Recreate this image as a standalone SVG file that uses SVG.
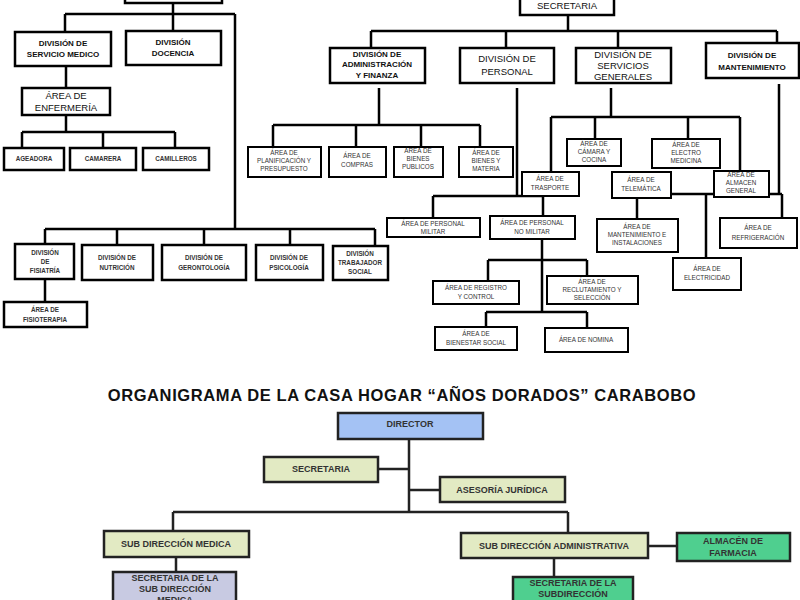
<svg xmlns="http://www.w3.org/2000/svg" width="800" height="600" viewBox="0 0 800 600">
<style>
.b{fill:#fff;stroke:#000;stroke-width:2.5}
.bt{fill:#fff;stroke:#000;stroke-width:2}
.c{stroke:#000;stroke-width:2.5;fill:none}
.c2{stroke:#222;stroke-width:2.5;fill:none}
text{font-family:"Liberation Sans",Arial,sans-serif;text-anchor:middle;fill:#111}
.d{font-size:8px;font-weight:bold}
.d2{font-size:9.5px}
.a{font-size:6.3px;fill:#333}
.s{font-size:9px;fill:#333}
.t{font-size:16.5px;font-weight:bold;letter-spacing:0.6px}
.bb{stroke:#222;stroke-width:2.5}
</style>
<rect width="800" height="600" fill="#fff"/>
<g id="connectors">
<path class="c" d="M173 0V14M65 14H235M65 14V32M173 14V31M235 14V229M66 66V88M66 115V132M22 132H175M22 132V148M103 132V148M175 132V148M45 229H375M45 229V244M117 229V245M204 229V245M290 229V246M375 229V246M45 279V302"/>
<path class="c" d="M568 14V31M371 31H777M371 31V51M506 31V51M618 31V52M777 31V46M379 88V125M273 125H480M273 125V147M356 125V147M421 125V147M480 125V147M611 88V117M551 117H740M551 117V172M595 117V139M688 117V139M740 117V171M517 88V196M433 196H543M433 196V218M543 196V216M542 239V313M488 260H587M488 260V281M587 260V276M486 312H587M486 312V327M587 312V328M779 84V194M637 194H782M637 194V219M706 194V258M782 194V218"/>
<path class="c2" d="M409 439V512M378 469H409M409 490H440M173 512H568M173 512V531M568 512V533M176 557V572M554 558V577M648 546H677"/>
</g>
<g id="n_top"><rect class="b" x="125" y="-6" width="97" height="9"/></g>
<g id="n_sec"><rect class="b" x="520" y="-4" width="94" height="19"/><text class="d2" x="567" y="9">SECRETARIA</text></g>
<g id="n_sm"><rect class="b" x="15" y="32" width="96" height="34"/><text class="d" x="63" y="46">DIVISIÓN DE</text><text class="d" x="63" y="57">SERVICIO MEDICO</text></g>
<g id="n_doc"><rect class="b" x="126" y="31" width="95" height="34"/><text class="d" x="173" y="45">DIVISIÓN</text><text class="d" x="173" y="56">DOCENCIA</text></g>
<g id="n_enf"><rect class="b" x="22" y="88" width="88" height="27"/><text class="d2" x="66" y="99">ÁREA DE</text><text class="d2" x="66" y="111">ENFERMERÍA</text></g>
<g id="n_age"><rect class="b" x="4" y="148" width="60" height="22"/><text class="a" x="34" y="161" font-weight="bold">AGEADORA</text></g>
<g id="n_cam"><rect class="b" x="70" y="148" width="66" height="22"/><text class="a" x="103" y="161" font-weight="bold">CAMARERA</text></g>
<g id="n_cml"><rect class="b" x="143" y="148" width="66" height="22"/><text class="a" x="176" y="161" font-weight="bold">CAMILLEROS</text></g>
<g id="n_fis"><rect class="b" x="15" y="244" width="59" height="35"/><text class="a" x="45" y="255" font-weight="bold">DIVISIÓN</text><text class="a" x="45" y="264" font-weight="bold">DE</text><text class="a" x="45" y="273" font-weight="bold">FISIATRÍA</text></g>
<g id="n_nut"><rect class="b" x="82" y="245" width="71" height="35"/><text class="a" x="117" y="260" font-weight="bold">DIVISIÓN DE</text><text class="a" x="117" y="270" font-weight="bold">NUTRICIÓN</text></g>
<g id="n_ger"><rect class="b" x="162" y="245" width="84" height="35"/><text class="a" x="204" y="260" font-weight="bold">DIVISIÓN DE</text><text class="a" x="204" y="270" font-weight="bold">GERONTOLOGÍA</text></g>
<g id="n_psi"><rect class="b" x="256" y="245" width="67" height="35"/><text class="a" x="289" y="260" font-weight="bold">DIVISIÓN DE</text><text class="a" x="289" y="270" font-weight="bold">PSICOLOGÍA</text></g>
<g id="n_tra"><rect class="b" x="333" y="246" width="55" height="34"/><text class="a" x="360" y="256" font-weight="bold">DIVISIÓN</text><text class="a" x="360" y="265" font-weight="bold">TRABAJADOR</text><text class="a" x="360" y="274" font-weight="bold">SOCIAL</text></g>
<g id="n_fit"><rect class="b" x="4" y="302" width="83" height="25"/><text class="a" x="45" y="312" font-weight="bold">ÁREA DE</text><text class="a" x="45" y="322" font-weight="bold">FISIOTERAPIA</text></g>
<g id="n_adm"><rect class="b" x="330" y="48" width="95" height="35"/><text class="d" x="377" y="57">DIVISIÓN DE</text><text class="d" x="377" y="67">ADMINISTRACIÓN</text><text class="d" x="377" y="78">Y FINANZA</text></g>
<g id="n_per"><rect class="b" x="460" y="48" width="94" height="35"/><text class="d2" x="507" y="62">DIVISIÓN DE</text><text class="d2" x="507" y="75">PERSONAL</text></g>
<g id="n_srv"><rect class="b" x="576" y="48" width="95" height="35"/><text class="d2" x="623" y="58" font-size="8.5">DIVISIÓN DE</text><text class="d2" x="623" y="69" font-size="8.5">SERVICIOS</text><text class="d2" x="623" y="80" font-size="8.5">GENERALES</text></g>
<g id="n_man"><rect class="b" x="706" y="43" width="93" height="35"/><text class="d" x="752" y="58">DIVISIÓN DE</text><text class="d" x="752" y="70">MANTENIMIENTO</text></g>
<g id="n_pla"><rect class="bt" x="248" y="147" width="73" height="30"/><text class="a" x="284" y="155">ÁREA DE</text><text class="a" x="284" y="163">PLANIFICACIÓN Y</text><text class="a" x="284" y="171">PRESUPUESTO</text></g>
<g id="n_com"><rect class="bt" x="329" y="147" width="57" height="30"/><text class="a" x="357" y="158">ÁREA DE</text><text class="a" x="357" y="167">COMPRAS</text></g>
<g id="n_bpu"><rect class="bt" x="394" y="147" width="49" height="30"/><text class="a" x="418" y="153">ÁREA DE</text><text class="a" x="418" y="161">BIENES</text><text class="a" x="418" y="169">PUBLICOS</text></g>
<g id="n_bma"><rect class="bt" x="459" y="147" width="54" height="30"/><text class="a" x="486" y="155">ÁREA DE</text><text class="a" x="486" y="163">BIENES Y</text><text class="a" x="486" y="171">MATERIA</text></g>
<g id="n_cc"><rect class="bt" x="567" y="139" width="54" height="27"/><text class="a" x="594" y="146">ÁREA DE</text><text class="a" x="594" y="154">CÁMARA Y</text><text class="a" x="594" y="162">COCINA</text></g>
<g id="n_em"><rect class="bt" x="652" y="139" width="68" height="29"/><text class="a" x="686" y="147">ÁREA DE</text><text class="a" x="686" y="155">ELECTRO</text><text class="a" x="686" y="163">MEDICINA</text></g>
<g id="n_trs"><rect class="bt" x="522" y="172" width="57" height="24"/><text class="a" x="550" y="181">ÁREA DE</text><text class="a" x="550" y="190">TRASPORTE</text></g>
<g id="n_tel"><rect class="bt" x="612" y="172" width="59" height="26"/><text class="a" x="641" y="182">ÁREA DE</text><text class="a" x="641" y="191">TELEMÁTICA</text></g>
<g id="n_alm"><rect class="bt" x="714" y="171" width="55" height="26"/><text class="a" x="741" y="177">ÁREA DE</text><text class="a" x="741" y="185">ALMACEN</text><text class="a" x="741" y="193">GENERAL</text></g>
<g id="n_pm"><rect class="bt" x="387" y="218" width="93" height="19"/><text class="a" x="433" y="226">ÁREA DE PERSONAL</text><text class="a" x="433" y="234">MILITAR</text></g>
<g id="n_pnm"><rect class="bt" x="490" y="216" width="85" height="23"/><text class="a" x="532" y="225">ÁREA DE PERSONAL</text><text class="a" x="532" y="234">NO MILITAR</text></g>
<g id="n_reg"><rect class="bt" x="433" y="281" width="86" height="23"/><text class="a" x="476" y="290">ÁREA  DE REGISTRO</text><text class="a" x="476" y="299">Y CONTROL</text></g>
<g id="n_rec"><rect class="bt" x="547" y="276" width="91" height="28"/><text class="a" x="592" y="284">ÁREA DE</text><text class="a" x="592" y="292">RECLUTAMIENTO Y</text><text class="a" x="592" y="300">SELECCIÓN</text></g>
<g id="n_bie"><rect class="bt" x="435" y="327" width="82" height="23"/><text class="a" x="476" y="336">ÁREA DE</text><text class="a" x="476" y="345">BIENESTAR SOCIAL</text></g>
<g id="n_nom"><rect class="bt" x="545" y="328" width="83" height="24"/><text class="a" x="586" y="342">ÁREA DE NOMINA</text></g>
<g id="n_mi"><rect class="bt" x="597" y="219" width="81" height="33"/><text class="a" x="637" y="229">ÁREA DE</text><text class="a" x="637" y="237">MANTENIMIENTO E</text><text class="a" x="637" y="245">INSTALACIONES</text></g>
<g id="n_ref"><rect class="bt" x="720" y="218" width="77" height="30"/><text class="a" x="758" y="230">ÁREA DE</text><text class="a" x="758" y="240">REFRIGERACIÓN</text></g>
<g id="n_ele"><rect class="bt" x="673" y="258" width="68" height="32"/><text class="a" x="707" y="271">ÁREA DE</text><text class="a" x="707" y="280">ELECTRICIDAD</text></g>
<text class="t" x="402" y="401">ORGANIGRAMA DE LA CASA HOGAR “AÑOS DORADOS” CARABOBO</text>
<g id="n_dir"><rect class="bb" fill="#a4c2f4" x="338" y="413" width="145" height="26"/><text class="s" x="410" y="427" font-weight="bold">DIRECTOR</text></g>
<g id="n_sec2"><rect class="bb" fill="#e2eac3" x="264" y="457" width="114" height="25"/><text class="s" x="321" y="472" font-weight="bold">SECRETARIA</text></g>
<g id="n_ase"><rect class="bb" fill="#e2eac3" x="440" y="477" width="125" height="25"/><text class="s" x="502" y="493" font-weight="bold">ASESORÍA  JURÍDICA</text></g>
<g id="n_sdm"><rect class="bb" fill="#e2eac3" x="104" y="531" width="145" height="26"/><text class="s" x="176" y="547" font-weight="bold">SUB DIRECCIÓN MEDICA</text></g>
<g id="n_sda"><rect class="bb" fill="#e2eac3" x="461" y="533" width="187" height="25"/><text class="s" x="554" y="549" font-weight="bold">SUB DIRECCIÓN ADMINISTRATIVA</text></g>
<g id="n_far"><rect class="bb" fill="#4fcf8f" x="677" y="533" width="113" height="28"/><text class="s" x="733" y="544" font-weight="bold">ALMACÉN DE</text><text class="s" x="733" y="556" font-weight="bold">FARMACIA</text></g>
<g id="n_ssm"><rect class="bb" fill="#c8cae2" x="113" y="572" width="123" height="40"/><text class="s" x="175" y="581" font-weight="bold">SECRETARIA DE LA</text><text class="s" x="175" y="592" font-weight="bold">SUB DIRECCIÓN</text><text class="s" x="175" y="603" font-weight="bold">MEDICA</text></g>
<g id="n_ssa"><rect class="bb" fill="#4fcf8f" x="513" y="577" width="120" height="35"/><text class="s" x="573" y="586" font-weight="bold">SECRETARIA DE LA</text><text class="s" x="573" y="597" font-weight="bold">SUBDIRECCIÓN</text><text class="s" x="573" y="608" font-weight="bold">ADMINISTRATIVA</text></g>
</svg>
